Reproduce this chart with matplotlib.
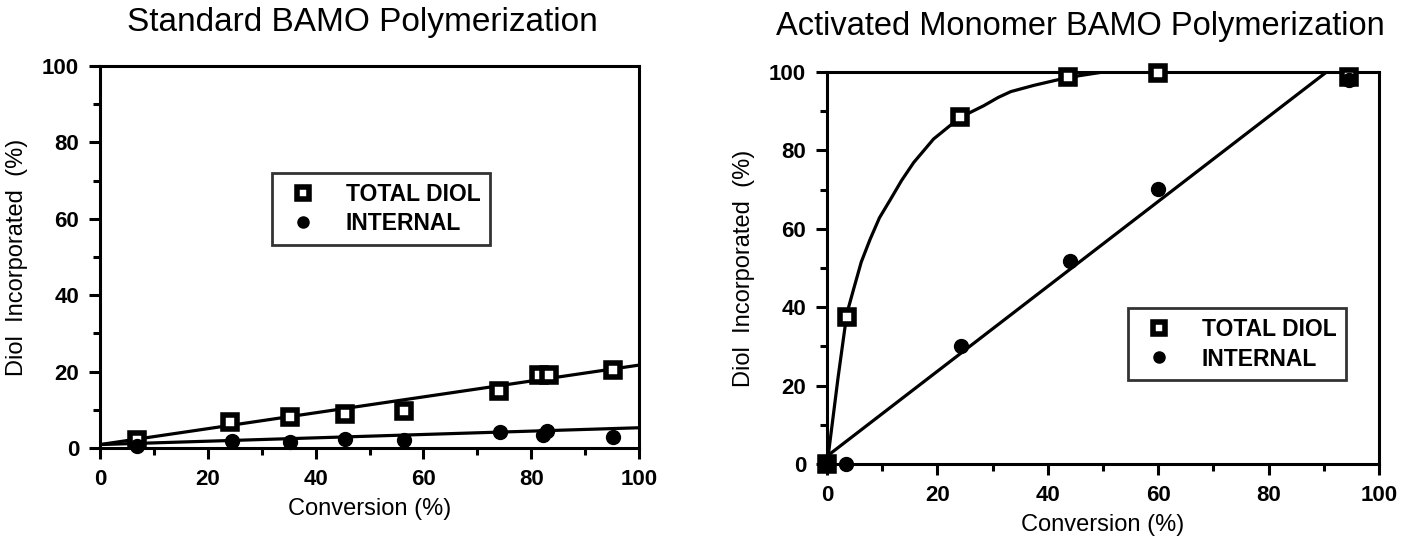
import matplotlib
matplotlib.use("Agg")
import matplotlib.pyplot as plt
from matplotlib.ticker import MultipleLocator

plt.rcParams["font.family"] = ["Liberation Sans", "DejaVu Sans"]

# ---- Standard BAMO polymerization (left) ----
std_total_x = [6.8, 24.2, 35.2, 45.5, 56.4, 74.0, 81.5, 83.3, 95.1]
std_total_y = [2.2, 6.8, 8.2, 8.9, 9.6, 14.8, 19.2, 19.2, 20.4]
std_int_x = [6.8, 24.5, 35.2, 45.5, 56.4, 74.3, 82.2, 83.0, 95.1]
std_int_y = [0.5, 1.9, 1.7, 2.3, 2.2, 4.3, 3.4, 4.5, 3.0]
std_fit_total_x = [0, 100]
std_fit_total_y = [0.9, 21.7]
std_fit_int_x = [0, 100]
std_fit_int_y = [0.9, 5.3]

# ---- Activated monomer BAMO polymerization (right) ----
am_total_x = [0.0, 3.6, 24.1, 43.6, 59.9, 94.6]
am_total_y = [0.0, 37.5, 88.4, 98.6, 99.8, 98.8]
am_int_x = [0.0, 3.5, 24.2, 44.1, 59.9, 94.6]
am_int_y = [0.0, 0.0, 30.0, 51.7, 70.1, 98.0]
# hand-drawn smooth curve through total diol
am_curve_x = [0, 0.2, 2.0, 3.6, 4.8, 6.2, 7.8, 9.5, 11.5, 13.5, 15.7, 19.3, 24.1, 28.4,
              31.0, 33.3, 37.5, 43.6, 49.6, 55, 100]
am_curve_y = [0, 1.9, 22.0, 38.4, 44.5, 51.5, 57.3, 62.8, 67.5, 72.3, 76.9, 82.9, 88.4, 91.4,
              93.5, 95.0, 96.6, 98.6, 99.9, 100, 100]
am_fit_int_x = [0, 90.5]
am_fit_int_y = [2, 100]

titles = ["Standard BAMO Polymerization", "Activated Monomer BAMO Polymerization"]
ticks = [0, 20, 40, 60, 80, 100]

W, H = 1404, 542
fig = plt.figure(figsize=(W / 100, H / 100), dpi=100)
axL = fig.add_axes([100 / W, 1 - 448 / H, 539 / W, 382 / H])
axR = fig.add_axes([827 / W, 1 - 464 / H, 552 / W, 392 / H])

sq = dict(ls="none", marker="s", ms=10, mfc="white", mec="black", mew=4, clip_on=False, zorder=4)
ci = dict(ls="none", marker="o", ms=10, mfc="black", mec="black", clip_on=False, zorder=4)
ln = dict(color="black", lw=2.3, solid_capstyle="butt", zorder=3)

axL.plot(std_fit_total_x, std_fit_total_y, **ln)
axL.plot(std_fit_int_x, std_fit_int_y, **ln)
axL.plot(std_total_x, std_total_y, label="TOTAL DIOL", **sq)
axL.plot(std_int_x, std_int_y, label="INTERNAL", **ci)

axR.plot(am_curve_x, am_curve_y, **ln)
axR.plot(am_fit_int_x, am_fit_int_y, **ln)
axR.plot(am_total_x, am_total_y, label="TOTAL DIOL", **sq)
axR.plot(am_int_x, am_int_y, label="INTERNAL", **ci)

for ax in (axL, axR):
    ax.set_xlim(0, 100)
    ax.set_ylim(0, 100)
    ax.set_xticks(ticks)
    ax.set_yticks(ticks)
    ax.xaxis.set_minor_locator(MultipleLocator(10))
    ax.yaxis.set_minor_locator(MultipleLocator(10))
    ax.tick_params(which="major", direction="out", length=8, width=2.2, labelsize=16, pad=7)
    ax.tick_params(which="minor", direction="out", length=5, width=2.2)
    ax.tick_params(top=False, right=False)
    for lab in ax.get_xticklabels() + ax.get_yticklabels():
        lab.set_fontweight("bold")
    for s in ax.spines.values():
        s.set_linewidth(2.2)
    ax.set_xlabel("Conversion (%)", fontsize=17, labelpad=6)
    ax.set_ylabel("Diol  Incorporated  (%)", fontsize=17, labelpad=10)

fig.text(362 / W, 1 - 23 / H, titles[0], fontsize=24, ha="center", va="center")
fig.text(1080 / W, 1 - 27 / H, titles[1], fontsize=23.5, ha="center", va="center")

legkw = dict(frameon=True, fancybox=False, prop=dict(size=16.5, weight="bold"),
             handletextpad=0.9, borderpad=0.42, labelspacing=0.3, handlelength=1.9,
             markerscale=0.8, borderaxespad=0)
legL = axL.legend(loc="upper left", bbox_to_anchor=(272 / W, 1 - 173 / H),
                  bbox_transform=fig.transFigure, **legkw)
legR = axR.legend(loc="upper left", bbox_to_anchor=(1128 / W, 1 - 308 / H),
                  bbox_transform=fig.transFigure, **legkw)
for lg in (legL, legR):
    lg.get_frame().set_edgecolor("black")
    lg.get_frame().set_linewidth(2)

fig.savefig("out.png", dpi=100)
